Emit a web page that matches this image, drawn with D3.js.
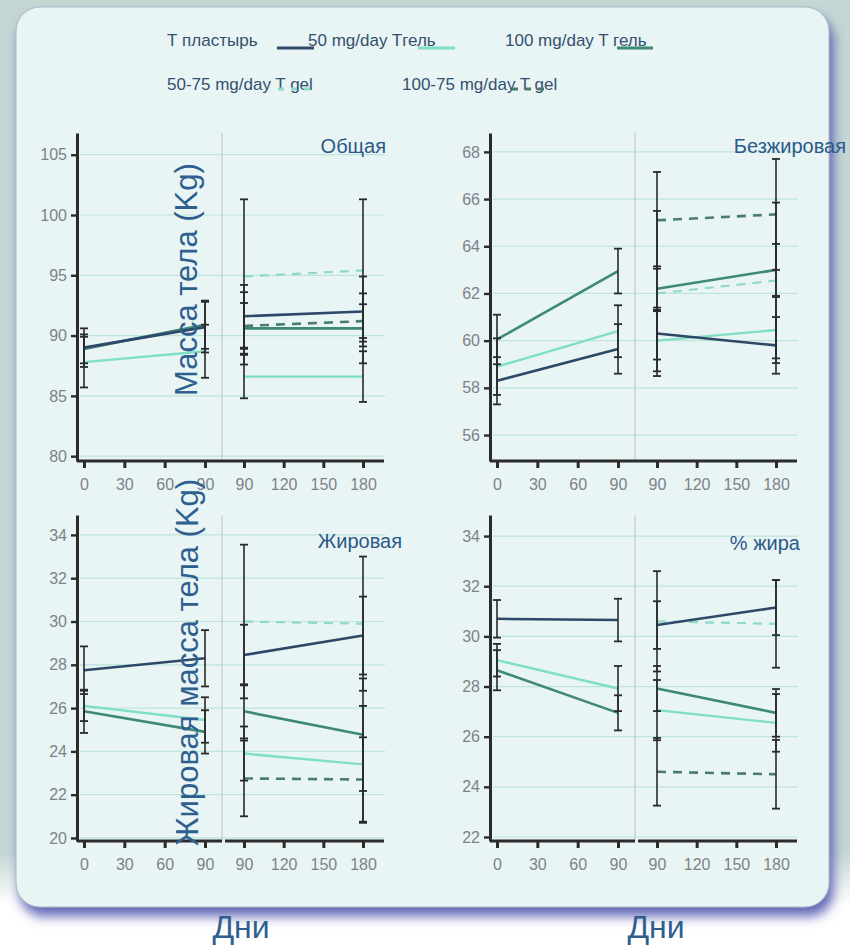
<!DOCTYPE html>
<html><head><meta charset="utf-8">
<script src="https://cdn.jsdelivr.net/npm/d3@7"></script>
<style>html,body{margin:0;padding:0;background:#fff;} svg{display:block;font-family:"Liberation Sans",Arial,sans-serif;}</style>
</head><body><svg id="c" width="850" height="947"></svg>
<script>
// ---------- DATA ----------
const seriesLabels = ["Т пластырь", "50 mg/day Tгель", "100 mg/day T гель", "50-75 mg/day T gel", "100-75 mg/day T gel"];
const seriesKeys = ["patch", "gel50", "gel100", "gel5075", "gel10075"];
const panelTitles = ["Общая", "Безжировая", "Жировая", "% жира"];
const yAxisTitles = ["Масса тела (Kg)", "Жировая масса тела (Kg)"];
const xLabel = "Дни";
const phase1Days = [0, 90];
const phase2Days = [90, 180];
const xTicks1 = [0, 30, 60, 90];
const xTicks2 = [90, 120, 150, 180];

// y ticks & axis extents per panel
const yTicksTotal = [80, 85, 90, 95, 100, 105];
const yTicksLean = [56, 58, 60, 62, 64, 66, 68];
const yTicksFat = [20, 22, 24, 26, 28, 30, 32, 34];
const yTicksPct = [22, 24, 26, 28, 30, 32, 34];
const yExtentTotal = [79.6, 106.8];
const yExtentLean = [54.9, 68.8];
const yExtentFat = [19.86, 34.92];
const yExtentPct = [21.84, 34.84];

// values: [day0, day90 (phase1), day90 (phase2), day180]
const total_patch = [89.0, 90.7, 91.6, 92.0];
const total_gel50 = [87.8, 88.7, 86.6, 86.6];
const total_gel100 = [88.9, 90.9, 90.6, 90.6];
const total_gel5075 = [null, null, 94.9, 95.4];
const total_gel10075 = [null, null, 90.8, 91.2];
const total_patch_err = [1.6, 2.1, 2.6, 2.9];
const total_gel50_err = [2.1, 2.2, 1.8, 2.1];
const total_gel100_err = [1.2, 2.0, 3.0, 2.9];
const total_gel5075_err = [null, null, 6.4, 5.9];
const total_gel10075_err = [null, null, 1.9, 1.4];

const lean_patch = [58.3, 59.65, 60.3, 59.8];
const lean_gel50 = [58.9, 60.4, 60.0, 60.45];
const lean_gel100 = [60.05, 62.95, 62.2, 63.0];
const lean_gel5075 = [null, null, 62.0, 62.55];
const lean_gel10075 = [null, null, 65.1, 65.35];
const lean_patch_err = [1.0, 1.05, 1.1, 1.2];
const lean_gel50_err = [1.2, 1.1, 1.3, 1.4];
const lean_gel100_err = [1.05, 0.95, 0.95, 1.1];
const lean_gel5075_err = [null, null, 3.5, 3.3];
const lean_gel10075_err = [null, null, 2.05, 2.35];

const fat_patch = [27.75, 28.3, 28.45, 29.35];
const fat_gel50 = [26.1, 25.45, 23.9, 23.4];
const fat_gel100 = [25.85, 24.9, 25.85, 24.77];
const fat_gel5075 = [null, null, 30.0, 29.9];
const fat_gel10075 = [null, null, 22.75, 22.7];
const fat_patch_err = [1.1, 1.3, 1.4, 1.8];
const fat_gel50_err = [0.7, 1.05, 1.25, 2.7];
const fat_gel100_err = [1.0, 1.0, 1.25, 2.6];
const fat_gel5075_err = [null, null, 3.55, 3.1];
const fat_gel10075_err = [null, null, 1.75, 1.95];

const pct_patch = [30.7, 30.65, 30.45, 31.15];
const pct_gel50 = [29.05, 27.92, 27.06, 26.55];
const pct_gel100 = [28.65, 26.95, 27.92, 26.95];
const pct_gel5075 = [null, null, 30.6, 30.5];
const pct_gel10075 = [null, null, 24.6, 24.5];
const pct_patch_err = [0.75, 0.85, 0.95, 1.1];
const pct_gel50_err = [0.65, 0.9, 1.2, 1.15];
const pct_gel100_err = [0.8, 0.7, 0.9, 0.95];
const pct_gel5075_err = [null, null, 2.0, 1.75];
const pct_gel10075_err = [null, null, 1.35, 1.37];

// ---------- BUILD ----------
const panelData = [
  {title: panelTitles[0], ticks: yTicksTotal, extent: yExtentTotal,
   means: [total_patch, total_gel50, total_gel100, total_gel5075, total_gel10075],
   errs: [total_patch_err, total_gel50_err, total_gel100_err, total_gel5075_err, total_gel10075_err]},
  {title: panelTitles[1], ticks: yTicksLean, extent: yExtentLean,
   means: [lean_patch, lean_gel50, lean_gel100, lean_gel5075, lean_gel10075],
   errs: [lean_patch_err, lean_gel50_err, lean_gel100_err, lean_gel5075_err, lean_gel10075_err]},
  {title: panelTitles[2], ticks: yTicksFat, extent: yExtentFat,
   means: [fat_patch, fat_gel50, fat_gel100, fat_gel5075, fat_gel10075],
   errs: [fat_patch_err, fat_gel50_err, fat_gel100_err, fat_gel5075_err, fat_gel10075_err]},
  {title: panelTitles[3], ticks: yTicksPct, extent: yExtentPct,
   means: [pct_patch, pct_gel50, pct_gel100, pct_gel5075, pct_gel10075],
   errs: [pct_patch_err, pct_gel50_err, pct_gel100_err, pct_gel5075_err, pct_gel10075_err]}
];

const styles = {
  patch:    {color: "#2d4868", width: 2.6, dash: null},
  gel50:    {color: "#7fdec6", width: 2.4, dash: null},
  gel100:   {color: "#3e8a73", width: 2.6, dash: null},
  gel5075:  {color: "#8fd9c6", width: 2.2, dash: "9,7"},
  gel10075: {color: "#4a7c70", width: 2.6, dash: "9,7"}
};
const drawOrder = [1, 3, 2, 4, 0];

const layout = [
  {ox: 77, top: 133, bottom: 461, tx: 386, ty: 153, gap: false},
  {ox: 490, top: 133, bottom: 461, tx: 846, ty: 153, gap: false},
  {ox: 77, top: 515, bottom: 841, tx: 402, ty: 548, gap: true},
  {ox: 490, top: 515, bottom: 841, tx: 800, ty: 550, gap: true}
];

const svg = d3.select("#c");
const defs = svg.append("defs");
const bgGrad = defs.append("linearGradient").attr("id", "bgGrad")
  .attr("x1", 0).attr("y1", 0).attr("x2", 0).attr("y2", 1);
bgGrad.append("stop").attr("offset", "0.9").attr("stop-color", "#c4d7d4");
bgGrad.append("stop").attr("offset", "0.955").attr("stop-color", "#ffffff");
svg.append("rect").attr("width", 850).attr("height", 947).attr("fill", "url(#bgGrad)");

const f = defs.append("filter").attr("id", "sh")
  .attr("x", "-5%").attr("y", "-5%").attr("width", "115%").attr("height", "115%");
f.append("feDropShadow").attr("dx", 4).attr("dy", 9).attr("stdDeviation", 6)
  .attr("flood-color", "#5a61b2").attr("flood-opacity", 0.95);

svg.append("rect").attr("x", 16).attr("y", 7).attr("width", 813).attr("height", 900)
  .attr("rx", 24).attr("fill", "#e9f4f5").attr("stroke", "#a9b7c6").attr("stroke-width", 1)
  .attr("filter", "url(#sh)");

panelData.forEach((pd, i) => {
  const L = layout[i];
  const g = svg.append("g");
  const y = d3.scaleLinear().domain(pd.extent).range([L.bottom, L.top]);
  const x1 = d3.scaleLinear().domain(phase1Days).range([L.ox + 7, L.ox + 128]);
  const x2 = d3.scaleLinear().domain(phase2Days).range([L.ox + 167, L.ox + 286]);

  // grid
  g.selectAll(".grid").data(pd.ticks).join("line")
    .attr("x1", L.ox + 3).attr("x2", L.ox + 308)
    .attr("y1", d => y(d)).attr("y2", d => y(d))
    .attr("stroke", "#bde5db").attr("stroke-width", 1.2);
  // divider
  g.append("line").attr("x1", L.ox + 145).attr("x2", L.ox + 145)
    .attr("y1", L.top).attr("y2", L.bottom)
    .attr("stroke", "#c6cfcf").attr("stroke-width", 1.3);

  // series lines
  drawOrder.forEach(si => {
    const st = styles[seriesKeys[si]];
    const v = pd.means[si];
    const segs = [];
    if (v[0] != null) segs.push([[x1(phase1Days[0]), y(v[0])], [x1(phase1Days[1]), y(v[1])]]);
    if (v[2] != null) segs.push([[x2(phase2Days[0]), y(v[2])], [x2(phase2Days[1]), y(v[3])]]);
    segs.forEach(s => {
      g.append("path").attr("d", d3.line()(s)).attr("fill", "none")
        .attr("stroke", st.color).attr("stroke-width", st.width)
        .attr("stroke-dasharray", st.dash);
    });
  });

  // error bars
  const pts = [];
  pd.means.forEach((v, si) => {
    const e = pd.errs[si];
    v.forEach((m, k) => {
      if (m == null) return;
      const xp = k < 2 ? x1(phase1Days[k]) : x2(phase2Days[k - 2]);
      pts.push({x: xp, lo: m - e[k], hi: m + e[k]});
    });
  });
  g.selectAll(".eb").data(pts).join("line")
    .attr("x1", d => d.x).attr("x2", d => d.x)
    .attr("y1", d => y(d.lo)).attr("y2", d => y(d.hi))
    .attr("stroke", "#2a2a2a").attr("stroke-width", 1.6);
  ["lo", "hi"].forEach(k => {
    g.selectAll(".cap" + k).data(pts).join("line")
      .attr("x1", d => d.x - 4).attr("x2", d => d.x + 4)
      .attr("y1", d => y(d[k])).attr("y2", d => y(d[k]))
      .attr("stroke", "#2a2a2a").attr("stroke-width", 1.8);
  });

  // y axis
  const ya = g.append("g").attr("transform", `translate(${L.ox},0)`)
    .call(d3.axisLeft(y).tickValues(pd.ticks).tickSize(6).tickPadding(4).tickSizeOuter(0));
  ya.select(".domain").attr("stroke", "#2b2b2b").attr("stroke-width", 3);
  ya.selectAll(".tick line").attr("stroke", "#2b2b2b").attr("stroke-width", 2.4);
  ya.selectAll(".tick text").attr("font-size", 16).attr("fill", "#7e8288")
    .attr("font-family", "Liberation Sans, Arial, sans-serif");

  // x axis line(s)
  if (L.gap) {
    g.append("line").attr("x1", L.ox).attr("x2", L.ox + 145).attr("y1", L.bottom).attr("y2", L.bottom)
      .attr("stroke", "#2b2b2b").attr("stroke-width", 3);
    g.append("line").attr("x1", L.ox + 148).attr("x2", L.ox + 307).attr("y1", L.bottom).attr("y2", L.bottom)
      .attr("stroke", "#2b2b2b").attr("stroke-width", 3);
  } else {
    g.append("line").attr("x1", L.ox).attr("x2", L.ox + 307).attr("y1", L.bottom).attr("y2", L.bottom)
      .attr("stroke", "#2b2b2b").attr("stroke-width", 3);
  }
  [[x1, xTicks1], [x2, xTicks2]].forEach(([xs, tv]) => {
    const xa = g.append("g").attr("transform", `translate(0,${L.bottom})`)
      .call(d3.axisBottom(xs).tickValues(tv).tickSize(7).tickPadding(11));
    xa.select(".domain").remove();
    xa.selectAll(".tick line").attr("stroke", "#2b2b2b").attr("stroke-width", 3);
    xa.selectAll(".tick text").attr("font-size", 16).attr("fill", "#7e8288")
      .attr("font-family", "Liberation Sans, Arial, sans-serif");
  });

  // panel title
  svg.append("text").attr("x", L.tx).attr("y", L.ty).attr("text-anchor", "end")
    .attr("font-size", 20).attr("fill", "#2b5a88").text(pd.title);
});

// y axis titles (rotated)
[[197, 396, yAxisTitles[0]], [198, 846, yAxisTitles[1]]].forEach(([tx, ty, t]) => {
  svg.append("text").attr("transform", `translate(${tx},${ty}) rotate(-90)`)
    .attr("text-anchor", "start").attr("font-size", 31).attr("fill", "#2e5f8f").text(t);
});

// x labels
[241, 656].forEach(cx => {
  svg.append("text").attr("x", cx).attr("y", 938).attr("text-anchor", "middle")
    .attr("font-size", 32).attr("fill", "#2e5f8f").text(xLabel);
});

// legend
const legendPos = [
  {tx: 167, ty: 46, sx1: 277, sx2: 314, sy: 48},
  {tx: 308, ty: 46, sx1: 418, sx2: 455, sy: 48},
  {tx: 505, ty: 46, sx1: 617, sx2: 653, sy: 48},
  {tx: 167, ty: 90, sx1: 278, sx2: 312, sy: 89},
  {tx: 402, ty: 90, sx1: 512, sx2: 547, sy: 89}
];
seriesLabels.forEach((lab, i) => {
  const p = legendPos[i];
  const st = styles[seriesKeys[i]];
  svg.append("text").attr("x", p.tx).attr("y", p.ty).attr("font-size", 17)
    .attr("fill", "#34506e").text(lab);
  svg.append("line").attr("x1", p.sx1).attr("x2", p.sx2).attr("y1", p.sy).attr("y2", p.sy)
    .attr("stroke", st.color).attr("stroke-width", 3)
    .attr("stroke-dasharray", st.dash ? "6,7" : null);
});
</script></body></html>
